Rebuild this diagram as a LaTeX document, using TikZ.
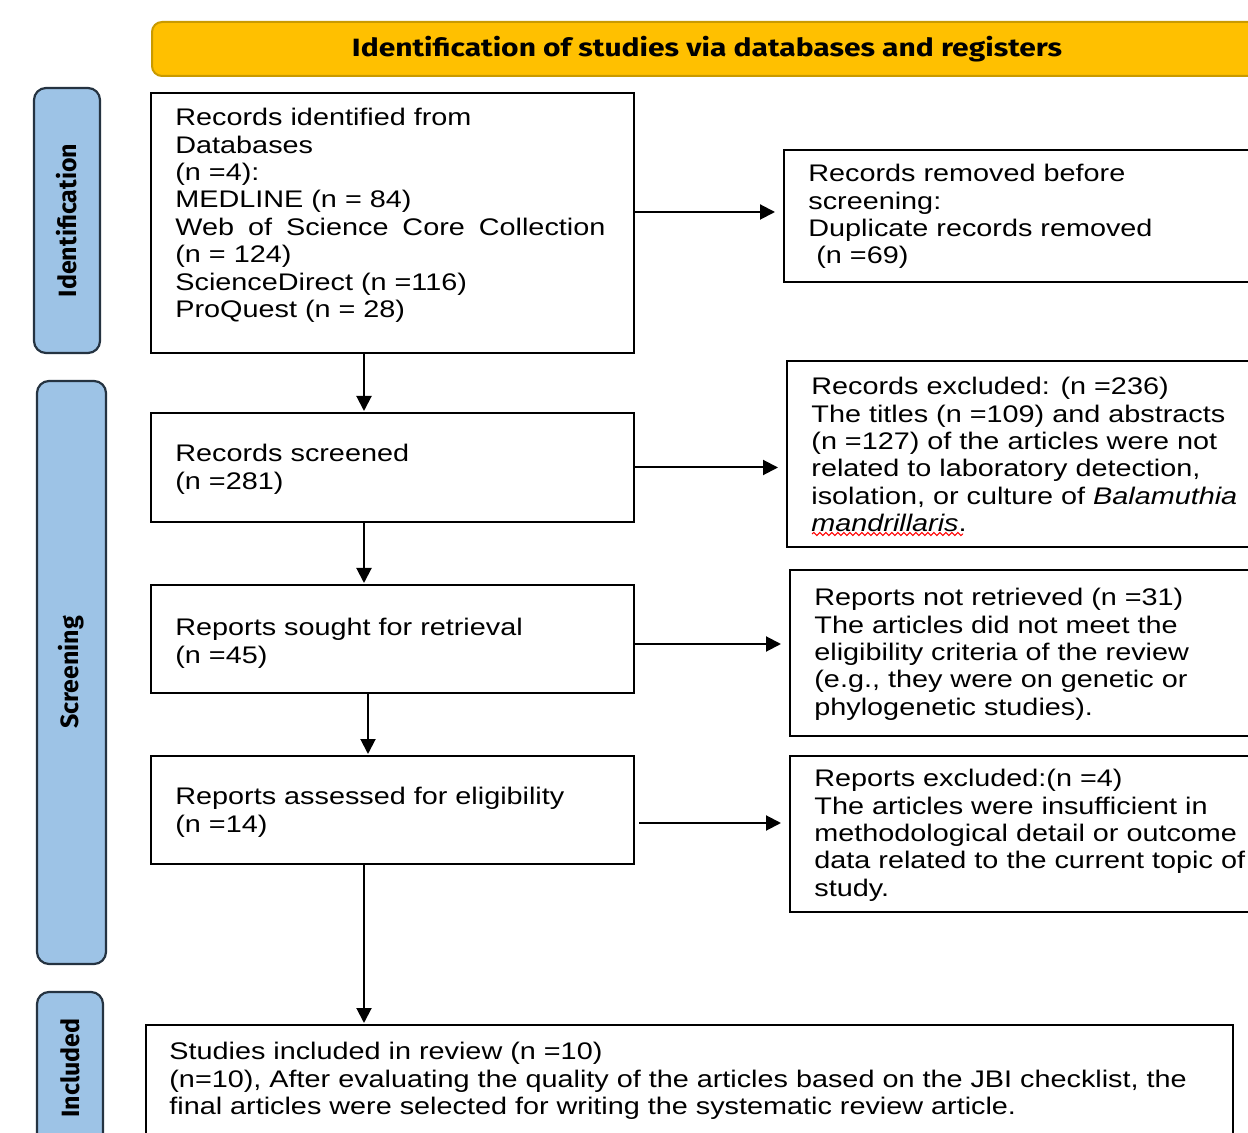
\documentclass[tikz,border=0pt]{standalone}
\usepackage{fontspec}
\setmainfont{Liberation Sans}[FakeStretch=1.2]
\newfontfamily\hfont{Fira Sans}
\newfontfamily\tfont{Fira Sans}[FakeStretch=1.2]
\usetikzlibrary{arrows.meta,decorations.pathmorphing}
\definecolor{titlefill}{HTML}{FFC000}
\definecolor{titleedge}{HTML}{C99A00}
\definecolor{sidefill}{HTML}{9DC3E6}
\definecolor{sideedge}{HTML}{253341}
\tikzset{
  box/.style={draw=black, line width=1pt, rectangle, inner sep=0pt},
  txt/.style={anchor=north west, inner sep=0pt, align=left, font=\fontsize{12}{13.7}\selectfont},
  side/.style={draw=sideedge, fill=sidefill, line width=1.1pt, rounded corners=6pt, inner sep=0pt},
  sidetxt/.style={rotate=90, font=\hfont\bfseries\fontsize{12.5}{14}\selectfont},
  arr/.style={draw=black, line width=1pt, -{Triangle[length=7.5pt,width=7.5pt]}},
  harr/.style={arr, shorten >=4pt},
  varr/.style={arr, shorten >=0.5pt}
}
\begin{document}
\begin{tikzpicture}[x=0.5pt,y=-0.5pt]
\useasboundingbox (0,0) rectangle (1248,1133);
\clip (0,0) rectangle (1248,1133);
\fill[white] (0,0) rectangle (1248,1133);
% title
\node[draw=titleedge, fill=titlefill, line width=1pt, rounded corners=5pt, minimum width=555pt, minimum height=27pt, inner sep=0pt,
  font=\tfont\bfseries\fontsize{12.5}{14}\selectfont] (title) at (707,49) {Identification of studies via databases and registers};
% side labels
\node[side, minimum width=33pt, minimum height=132.5pt] (sideI) at (67,220.5) {};
\node[sidetxt] (sideIt) at (sideI) {Identification};
\node[side, minimum width=34.5pt, minimum height=291.5pt] (sideS) at (71.5,672.5) {};
\node[sidetxt] (sideSt) at (sideS) {Screening};
\node[side, minimum width=33pt, minimum height=94pt] (sideC) at (70,1086) {};
\node[sidetxt] (sideCt) at (70,1068) {Included};
% boxes
\node[box, minimum width=241.5pt, minimum height=130pt] (b1) at (392.5,223) {};
\node[txt] (b1t) at (175,108) {Records identified from\\Databases\\(n =4):\\MEDLINE (n = 84)\\\makebox[215pt][s]{Web of Science Core Collection}\\(n = 124)\\ScienceDirect (n =116)\\ProQuest (n = 28)};
\node[box, minimum width=239pt, minimum height=66pt] (rem) at (1023,216) {};
\node[txt] (remt) at (808,164) {Records removed before\\screening:\\Duplicate records removed\\\hspace{4pt}(n =69)};
\node[box, minimum width=241.5pt, minimum height=54.5pt] (scr) at (392.5,467.5) {};
\node[txt] (scrt) at (175,444) {Records screened\\(n =281)};
\node[box, minimum width=237.5pt, minimum height=93pt] (exc) at (1024.5,454) {};
\node[txt] (exct) at (811,377) {Records excluded: (n =236)\\The titles (n =109) and abstracts\\(n =127) of the articles were not\\related to laboratory detection,\\isolation, or culture of \textit{Balamuthia}\\\textit{mandrillaris}.};
\draw[red, line width=0.5pt, decorate, decoration={snake, amplitude=0.8pt, segment length=3pt}] (812,534) -- (963,534);
\node[box, minimum width=241.5pt, minimum height=54pt] (sou) at (392.5,639) {};
\node[txt] (sout) at (175,618) {Reports sought for retrieval\\(n =45)};
\node[box, minimum width=236pt, minimum height=83pt] (nre) at (1026,653) {};
\node[txt] (nret) at (814,588) {Reports not retrieved (n =31)\\The articles did not meet the\\eligibility criteria of the review\\(e.g., they were on genetic or\\phylogenetic studies).};
\node[box, minimum width=241.5pt, minimum height=54pt] (ass) at (392.5,810) {};
\node[txt] (asst) at (175,787) {Reports assessed for eligibility\\(n =14)};
\node[box, minimum width=236pt, minimum height=78pt] (ex2) at (1026,834) {};
\node[txt] (ex2t) at (814,769) {Reports excluded:(n =4)\\The articles were insufficient in\\methodological detail or outcome\\data related to the current topic of\\study.};
\node[box, minimum width=543.5pt, minimum height=77.5pt] (inc) at (689.5,1102.5) {};
\node[txt] (inct) at (169,1042) {Studies included in review (n =10)\\(n=10), After evaluating the quality of the articles based on the JBI checklist, the\\final articles were selected for writing the systematic review article.};
% connectors
\draw[harr] ([yshift=2pt]b1.east |- rem.west) -- ([yshift=2pt]rem.west);
\draw[harr] (scr.east) -- (scr.east -| exc.west);
\draw[harr] ([yshift=-2.5pt]sou.east) -- ([yshift=-2.5pt]sou.east -| nre.west);
\draw[harr] ([yshift=-6.5pt,xshift=2pt]ass.east) -- ([yshift=-6.5pt]ass.east -| ex2.west);
\draw[varr] ([xshift=-14.25pt]b1.south) -- ([xshift=-14.25pt]scr.north);
\draw[varr] ([xshift=-14.25pt]scr.south) -- ([xshift=-14.25pt]sou.north);
\draw[varr] ([xshift=-12.25pt]sou.south) -- ([xshift=-12.25pt]ass.north);
\draw[varr] ([xshift=-14.25pt]ass.south) -- ([xshift=-14.25pt]ass.south |- inc.north);
\end{tikzpicture}
\end{document}
